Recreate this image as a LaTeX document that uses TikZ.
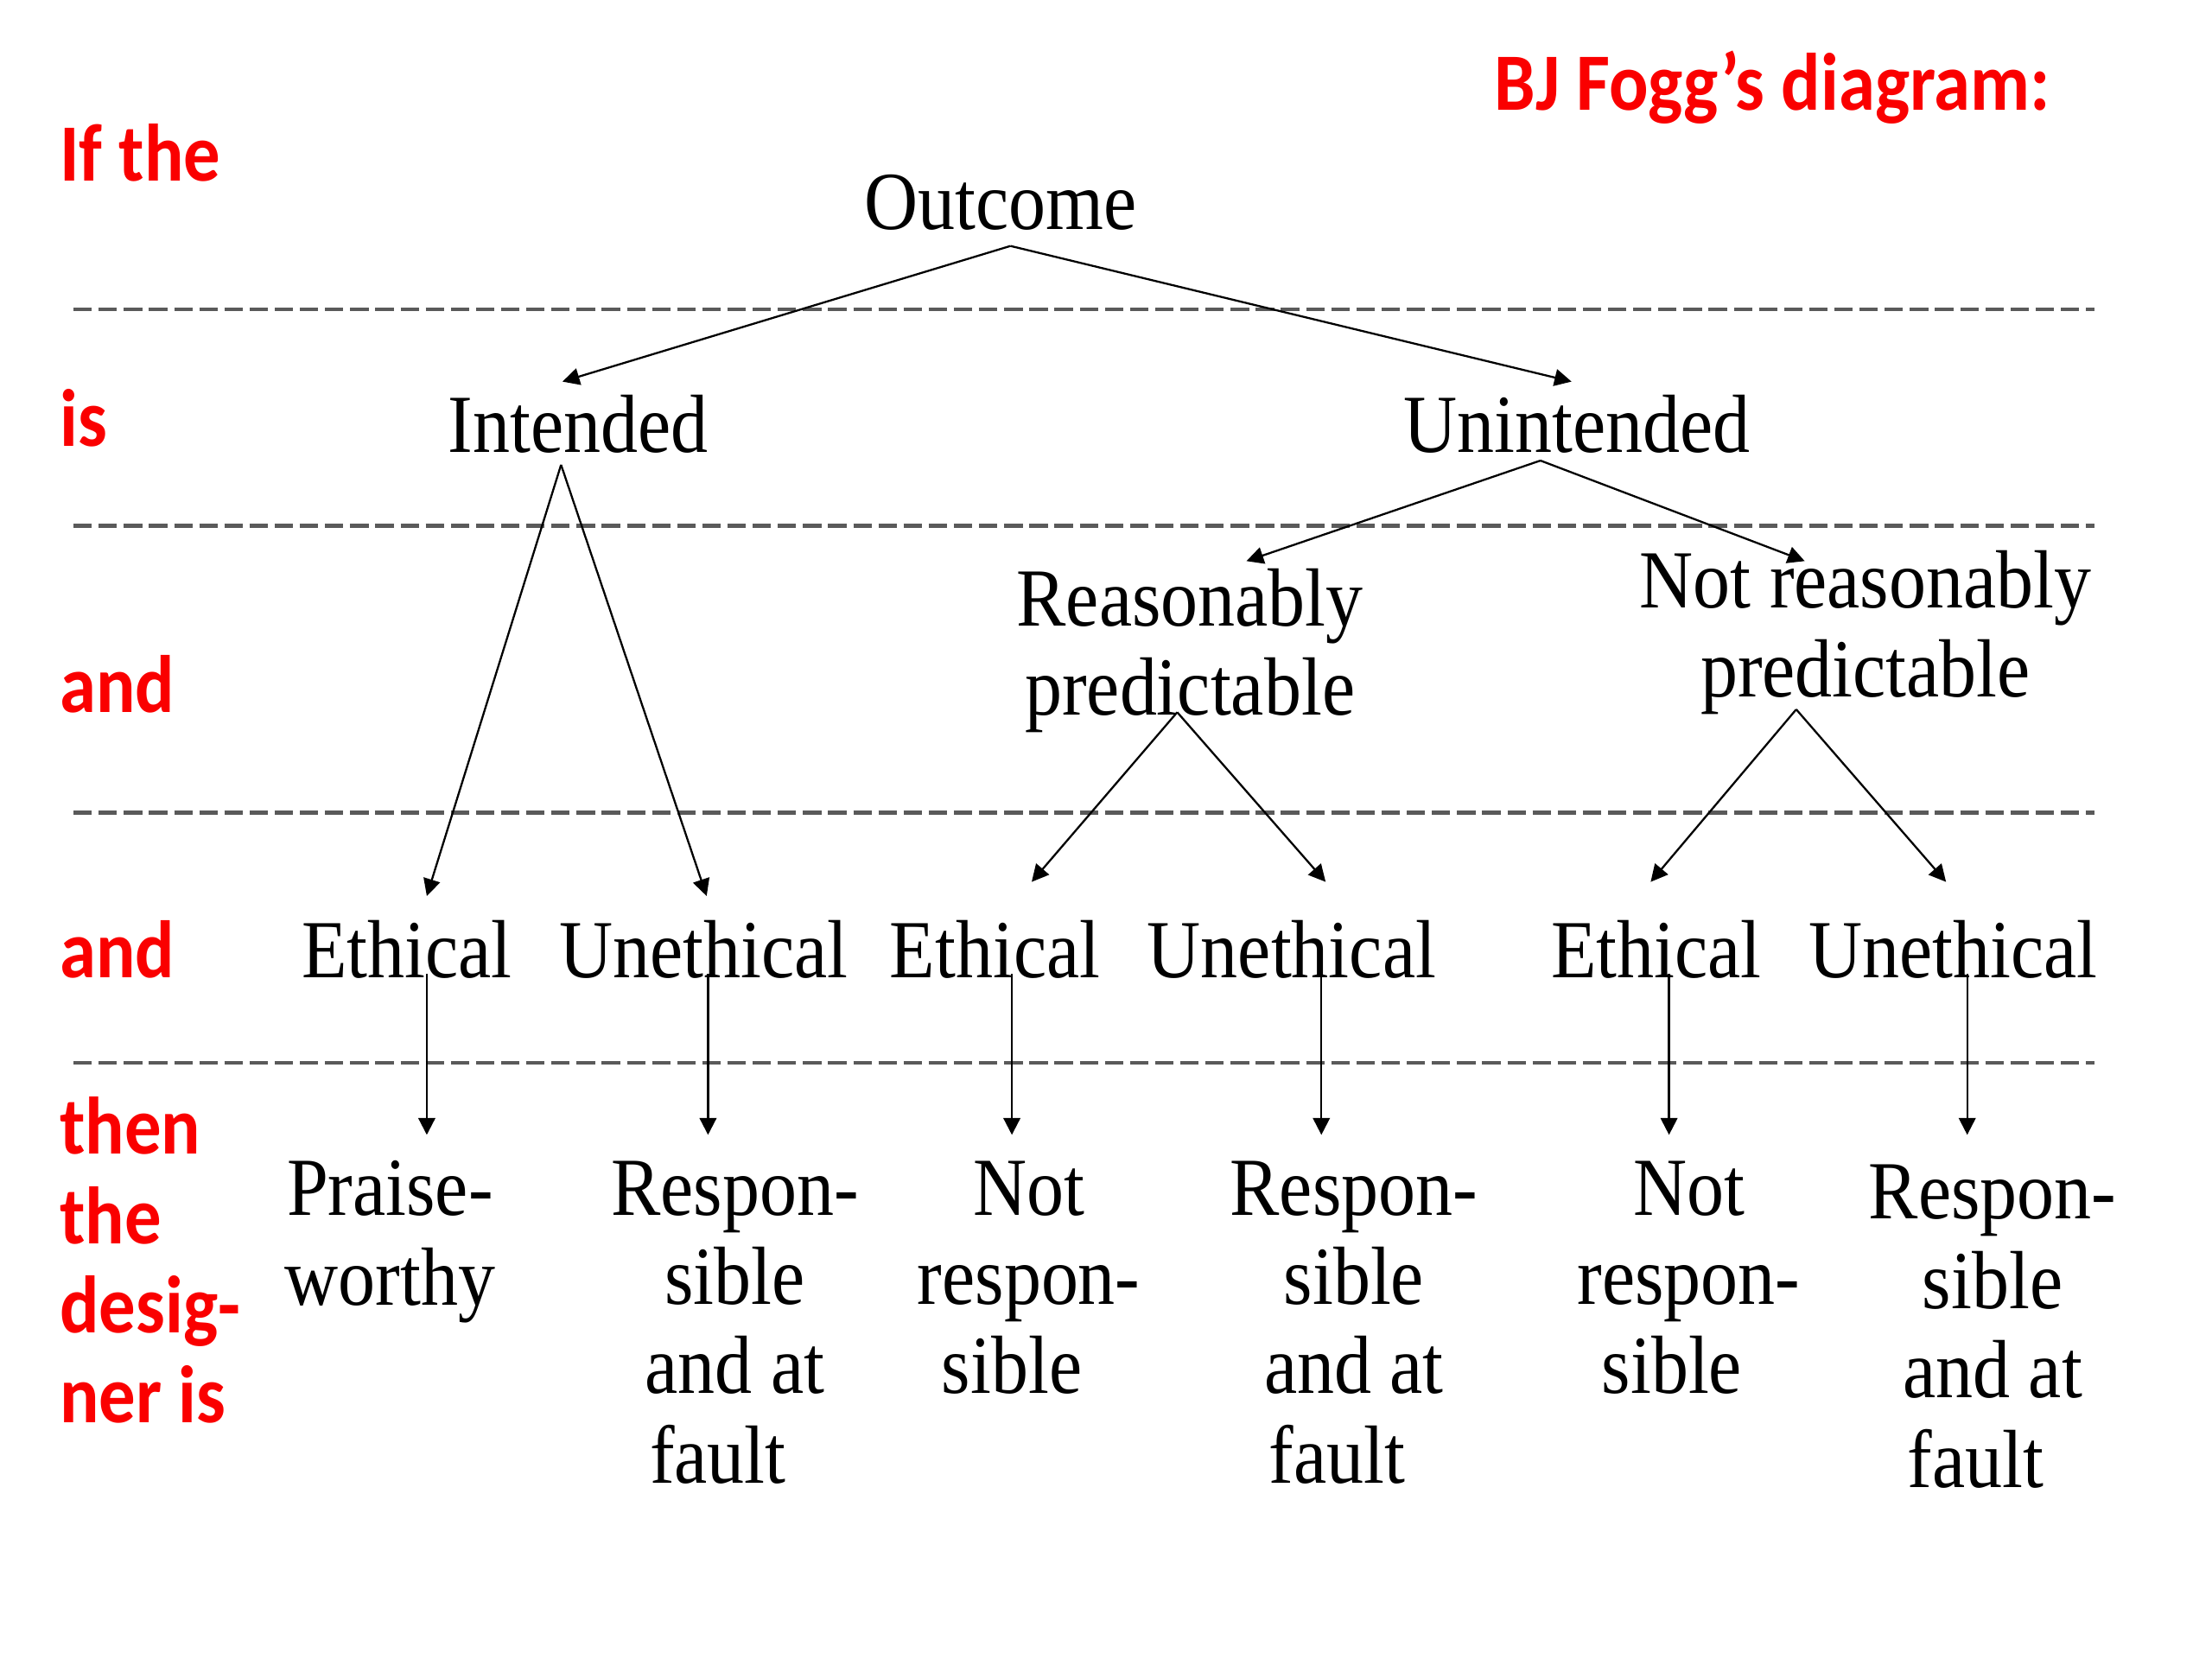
\documentclass[tikz,border=0pt]{standalone}
\usepackage{fontspec}
\setmainfont{Liberation Serif}[FakeStretch=0.9]
\newfontfamily\labelfont{Carlito}[FakeStretch=0.9]
\usetikzlibrary{arrows.meta}

\definecolor{foggred}{RGB}{250,0,0}
\definecolor{rulegray}{RGB}{90,90,90}

\newcommand{\trail}{\hspace*{12pt}}

\tikzset{
  case/.style={anchor=north, inner sep=0pt, align=center,
    font=\fontsize{29.2}{31.6}\selectfont},
  cond/.style={anchor=base west, inner sep=0pt, align=left, text=foggred,
    font=\labelfont\bfseries\fontsize{28.8}{31.6}\selectfont},
  arr/.style={-{Triangle[length=6pt,width=6pt]}, line width=0.7pt},
  rule/.style={rulegray, line width=1.3pt, dash pattern=on 6.5pt off 2.4pt},
}

\begin{document}
\begin{tikzpicture}[x=0.5pt, y=-0.5pt]
\useasboundingbox (0,0) rectangle (1565.2,1173.9);

% ----------------------------------------------------------
% Level separators
% ----------------------------------------------------------
\foreach \y in {219,372,575,752} {
    \draw[rule] (52,\y) -- (1482,\y);
}

% ----------------------------------------------------------
% Row labels
% ----------------------------------------------------------
\node[cond] (title) at (1057,78) {BJ Fogg’s diagram:};
\node[cond] (ifthe) at (42,128) {If the};
\node[cond] (is) at (42,316) {is};
\node[cond] (and1) at (42,504) {and};
\node[cond] (and2) at (42,692) {and};
\node[cond, anchor=north west] (then) at (42,776) {then\\the\\desig-\\ner is};

% ----------------------------------------------------------
% Tree nodes
% ----------------------------------------------------------
\node[case] (outcome) at (708,123) {Outcome};

\node[case] (intended) at (409,279) {Intended};
\node[case] (unintended) at (1116,279) {Unintended};

\node[case] (reas) at (842,402) {Reasonably\\predictable};
\node[case] (notreas) at (1320,389) {Not reasonably\\predictable};

\node[case] (eth1) at (288,651) {Ethical};
\node[case] (uneth1) at (498,651) {Unethical};
\node[case] (eth2) at (704,651) {Ethical};
\node[case] (uneth2) at (914,651) {Unethical};
\node[case] (eth3) at (1172,651) {Ethical};
\node[case] (uneth3) at (1382,651) {Unethical};

\node[case] (praise) at (276,821) {Praise-\\worthy};
\node[case] (resp1) at (520,821) {Respon-\\sible\trail\\and at\\fault\trail};
\node[case] (notresp2) at (728,821) {Not\\respon-\\sible\trail};
\node[case] (resp2) at (958,821) {Respon-\\sible\trail\\and at\\fault\trail};
\node[case] (notresp3) at (1195,821) {Not\\respon-\\sible\trail};
\node[case] (resp3) at (1410,824) {Respon-\\sible\trail\\and at\\fault\trail};

% ----------------------------------------------------------
% Branches
% ----------------------------------------------------------
\draw[arr] ([shift={(7,11)}]outcome.south) -- ([shift={(-11,-9)}]intended.north);
\draw[arr] ([shift={(7,11)}]outcome.south) -- ([shift={(-4,-9)}]unintended.north);

\draw[arr] ([shift={(-12,8)}]intended.south) -- ([shift={(14,-17)}]eth1.north);
\draw[arr] ([shift={(-12,8)}]intended.south) -- ([shift={(2,-17)}]uneth1.north);

\draw[arr] ([shift={(-26,5)}]unintended.south) -- ([shift={(40,-5)}]reas.north);
\draw[arr] ([shift={(-26,5)}]unintended.south) -- ([shift={(-43,8)}]notreas.north);

\draw[arr] ([shift={(-9,-15)}]reas.south) -- ([shift={(26,-27)}]eth2.north);
\draw[arr] ([shift={(-9,-15)}]reas.south) -- ([shift={(24,-27)}]uneth2.north);

\draw[arr] ([shift={(-49,-4)}]notreas.south) -- ([shift={(-4,-27)}]eth3.north);
\draw[arr] ([shift={(-49,-4)}]notreas.south) -- ([shift={(-5,-27)}]uneth3.north);

% ----------------------------------------------------------
% Verdicts
% ----------------------------------------------------------
\foreach \src/\dst/\dx/\ex/\ey in {eth1/praise/14/26/-18, uneth1/resp1/3/-19/-18,
    eth2/notresp2/12/-12/-18, uneth2/resp2/21/-23/-18,
    eth3/notresp3/9/-14/-18, uneth3/resp3/10/-18/-21} {
    \draw[arr] ([shift={(\dx,-4)}]\src.south) -- ([shift={(\ex,\ey)}]\dst.north);
}

\end{tikzpicture}
\end{document}
